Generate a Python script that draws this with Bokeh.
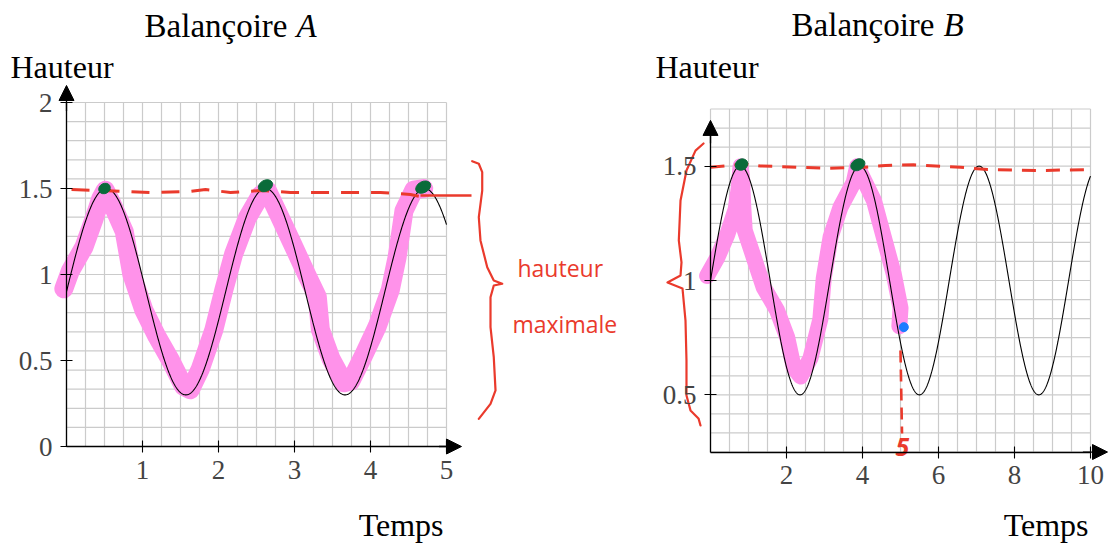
import numpy as np
from bokeh.plotting import figure
from bokeh.layouts import row
from bokeh.models import (Range1d, LinearAxis, FixedTicker, CustomJSTickFormatter,
                          Arrow, NormalHead)
from bokeh.core.properties import value
from bokeh.embed import file_html
from bokeh.resources import INLINE

# ---------------------------------------------------------------------------
# Swing heights: h(t) = offset + amplitude * sin(omega * t)
swing_a_offset, swing_a_amplitude, swing_a_omega = 0.9, 0.6, 3.0
swing_b_offset, swing_b_amplitude, swing_b_omega = 1.0, 0.5, 2.0
swing_a_tmax = 5.0
swing_b_tmax = 10.0

# tick values
a_xticks = [1, 2, 3, 4, 5]
a_yticks = [0, 0.5, 1, 1.5, 2]
b_xticks = [2, 4, 6, 8, 10]
b_yticks = [0.5, 1, 1.5]

# hand-drawn highlighter over curve A
a_marker_t = [-0.035, 0.05, 0.23, 0.36, 0.45, 0.51, 0.6, 0.76, 0.86, 1.02, 1.19, 1.37,
              1.54, 1.63, 1.76, 1.94, 2.07, 2.2, 2.38, 2.55, 2.64, 2.77, 2.95, 3.17,
              3.3, 3.34, 3.48, 3.65, 3.74, 3.91, 4.09, 4.26, 4.35, 4.44, 4.57, 4.7]
a_marker_h = [0.917, 1.02, 1.16, 1.32, 1.44, 1.49, 1.41, 1.25, 1.0, 0.79, 0.64, 0.5,
              0.35, 0.33, 0.45, 0.68, 0.91, 1.12, 1.33, 1.46, 1.49, 1.37, 1.2, 0.99,
              0.87, 0.68, 0.51, 0.37, 0.38, 0.53, 0.70, 0.91, 1.1, 1.37, 1.49, 1.5]

# hand-drawn highlighter over curve B (first five seconds)
b_marker_t = [-0.09, 0.18, 0.44, 0.66, 0.74, 0.79, 0.83, 0.86, 0.9, 1.14, 1.4, 1.75,
              2.02, 2.19, 2.37, 2.63, 2.89, 2.98, 3.16, 3.42, 3.77, 3.86, 3.95, 4.3,
              4.56, 4.82, 5.0, 4.97]
b_marker_h = [1.02, 1.1, 1.2, 1.31, 1.4, 1.5, 1.45, 1.33, 1.22, 1.1, 0.97, 0.87,
              0.75, 0.62, 0.58, 0.66, 0.83, 1.01, 1.19, 1.32, 1.43, 1.5, 1.47, 1.35,
              1.19, 1.03, 0.88, 0.8]

# peaks circled in green
a_peak_t = [0.5, 2.618, 4.693]
a_peak_h = [1.5, 1.516, 1.508]
b_peak_t = [0.816, 3.877]
b_peak_h = [1.507, 1.506]

# hand-drawn maximum-height guide lines
a_max_dash_t = [0.066, 0.447, 1.105, 1.632, 1.829, 2.158, 2.553, 2.947, 3.605, 4.132, 4.526, 4.658]
a_max_dash_h = [1.494, 1.488, 1.477, 1.483, 1.494, 1.477, 1.488, 1.477, 1.477, 1.477, 1.465, 1.453]
a_max_solid_t = [4.658, 5.329]
a_max_solid_h = [1.459, 1.459]
b_max_dash_t = [0, 0.921, 1.316, 3.053, 3.947, 4.605, 5.342, 6.579, 7.289, 8.684, 9.921]
b_max_dash_h = [1.495, 1.509, 1.501, 1.491, 1.494, 1.503, 1.506, 1.495, 1.485, 1.481, 1.485]

# braces
a_brace_x = [5.338, 5.425, 5.47, 5.47, 5.425, 5.447, 5.536, 5.622, 5.733, 5.622, 5.579,
             5.579, 5.622, 5.645, 5.579, 5.425]
a_brace_y = [1.659, 1.644, 1.595, 1.488, 1.333, 1.198, 1.042, 0.965, 0.946, 0.936, 0.868,
             0.694, 0.519, 0.326, 0.248, 0.161]
b_brace_x = [-0.184, -0.395, -0.632, -0.789, -0.834, -0.763, -0.789, -1.132, -0.737,
             -0.658, -0.632, -0.632, -0.526, -0.316, -0.263]
b_brace_y = [1.599, 1.568, 1.481, 1.35, 1.175, 1.079, 1.022, 0.991, 0.965, 0.825, 0.65,
             0.497, 0.432, 0.397, 0.366]

# reading at t = 5 on swing B
b_read_t = 5.0
b_point_t, b_point_h = 5.087, 0.796
b_read_drop_h = [0.694, 0.331]

SERIF = "Liberation Serif"
RED = "#ea3a2c"
PINK = "#ff92ea"
GREEN = "#0a6b3a"
GRID = "#cbcbcb"


def make_panel(width, xr, yr):
    p = figure(width=width, height=549, x_range=Range1d(*xr), y_range=Range1d(*yr),
               toolbar_location=None, output_backend="svg",
               x_axis_location=None, y_axis_location=None, min_border=0)
    p.outline_line_color = None
    p.grid.visible = False
    p.background_fill_color = "white"
    return p


def graph_paper(p, x0, x1, xstep, y0, y1, ny):
    xs = np.arange(x0, x1 + 1e-9, xstep)
    ys = np.linspace(y0, y1, ny + 1)
    p.segment(x0=xs, y0=[y0] * len(xs), x1=xs, y1=[y1] * len(xs),
              line_color=GRID, line_width=1.2)
    p.segment(x0=[x0] * len(ys), y0=ys, x1=[x1] * len(ys), y1=ys,
              line_color=GRID, line_width=1.2)


def add_axis(p, side, loc, bounds, ticks, standoff):
    ax = LinearAxis(fixed_location=loc, bounds=bounds, ticker=FixedTicker(ticks=ticks),
                    formatter=CustomJSTickFormatter(code="return String(tick)"),
                    major_tick_in=6, major_tick_out=6, minor_tick_line_color=None,
                    axis_line_width=1.3, major_tick_line_width=1.1,
                    major_label_text_font=SERIF, major_label_text_font_size="27px",
                    major_label_standoff=standoff)
    p.add_layout(ax, side)


def arrow_head(p, xs, ys, xe, ye):
    p.add_layout(Arrow(end=NormalHead(size=15, fill_color="black", line_color="black",
                                      line_width=1),
                       x_start=xs, y_start=ys, x_end=xe, y_end=ye,
                       line_color="black", line_width=1.3))


def title(p, x_split, x_ital, y, word, letter):
    p.text(x=[x_split], y=[y], text=[word], text_font=value(SERIF),
           text_font_size="33px", text_align="right", text_baseline="alphabetic")
    p.text(x=[x_ital], y=[y], text=[letter], text_font=value(SERIF),
           text_font_size="33px", text_font_style="italic", text_align="left",
           text_baseline="alphabetic")


def label(p, x, y, txt, align):
    p.text(x=[x], y=[y], text=[txt], text_font=value(SERIF), text_font_size="32px",
           text_align=align, text_baseline="alphabetic")


# ---------------------------------------------------------------- swing A
pa = make_panel(640, (-66 / 76, 574 / 76), (-103 / 172, 446 / 172))
graph_paper(pa, 0, 5, 0.25, 0, 2, 18)
pa.line(a_marker_t, a_marker_h, line_color=PINK, line_width=19,
        line_cap="round", line_join="round")
ta = np.linspace(0, swing_a_tmax, 800)
pa.line(ta, swing_a_offset + swing_a_amplitude * np.sin(swing_a_omega * ta),
        line_color="black", line_width=1.1)
add_axis(pa, "left", 0, (0, 2), a_yticks, 8)
add_axis(pa, "below", 0, (0, 5), a_xticks, 8)
arrow_head(pa, 0, 1.95, 0, 2.099)
arrow_head(pa, 4.9, 0, 5.197, 0)
pa.line(a_max_dash_t, a_max_dash_h, line_color=RED, line_width=3, line_dash="18 12")
pa.line(a_max_solid_t, a_max_solid_h, line_color=RED, line_width=2.5)
pa.ellipse(x=a_peak_t, y=a_peak_h, width=[12, 15, 16], height=[10, 11, 11],
           width_units="screen", height_units="screen", angle=0.5,
           fill_color=GREEN, line_color=GREEN)
pa.line(a_brace_x, a_brace_y, line_color=RED, line_width=2.2,
        line_cap="round", line_join="round")
pa.text(x=[5.934, 5.868], y=[1.04, 0.715], text=["hauteur", "maximale"],
        text_font=value("Open Sans"), text_font_size="23px", text_color=RED,
        text_baseline="alphabetic")
title(pa, 2.908, 3.026, 2.447, "Balançoire", "A")
label(pa, -0.737, 2.209, "Hauteur", "left")
label(pa, 4.961, -0.454, "Temps", "right")

# ---------------------------------------------------------------- swing B
pb = make_panel(468, (-70 / 38, 398 / 38), (1 - 269 / 228.7, 1 + 280 / 228.7))
graph_paper(pb, 0, 10, 0.5, 0.25, 1.75, 18)
pb.line(b_marker_t, b_marker_h, line_color=PINK, line_width=16,
        line_cap="round", line_join="round")
tb = np.linspace(0, swing_b_tmax, 1200)
pb.line(tb, swing_b_offset + swing_b_amplitude * np.sin(swing_b_omega * tb),
        line_color="black", line_width=1.1)
add_axis(pb, "left", 0, (0.25, 1.66), b_yticks, 8)
add_axis(pb, "below", 0.25, (0, 10), b_xticks, 8)
arrow_head(pb, 0, 1.6, 0, 1.70)
arrow_head(pb, 9.8, 0.25, 10.447, 0.25)
pb.line(b_max_dash_t, b_max_dash_h, line_color=RED, line_width=3, line_dash="14 10")
pb.line([b_read_t, b_read_t + 0.04], b_read_drop_h, line_color=RED, line_width=2.6,
        line_dash="12 7")
pb.ellipse(x=b_peak_t, y=b_peak_h, width=[13, 15], height=[11, 11],
           width_units="screen", height_units="screen", angle=0.5,
           fill_color=GREEN, line_color=GREEN)
pb.scatter(x=[b_point_t], y=[b_point_h], size=9, fill_color="#1b7cff",
           line_color="#1b7cff")
pb.line(b_brace_x, b_brace_y, line_color=RED, line_width=2.2,
        line_cap="round", line_join="round")
pb.text(x=[b_read_t + 0.05], y=[0.272], text=["5"], text_font=value("Noto Sans"),
        text_font_size="25px", text_font_style="bold italic", text_color=RED,
        text_align="center", text_baseline="alphabetic")
title(pb, 5.895, 6.132, 2.119, "Balançoire", "B")
label(pb, -1.447, 1.935, "Hauteur", "left")
label(pb, 9.947, -0.067, "Temps", "right")

layout = row(pa, pb)
open("out.html", "w").write(file_html(layout, INLINE))
